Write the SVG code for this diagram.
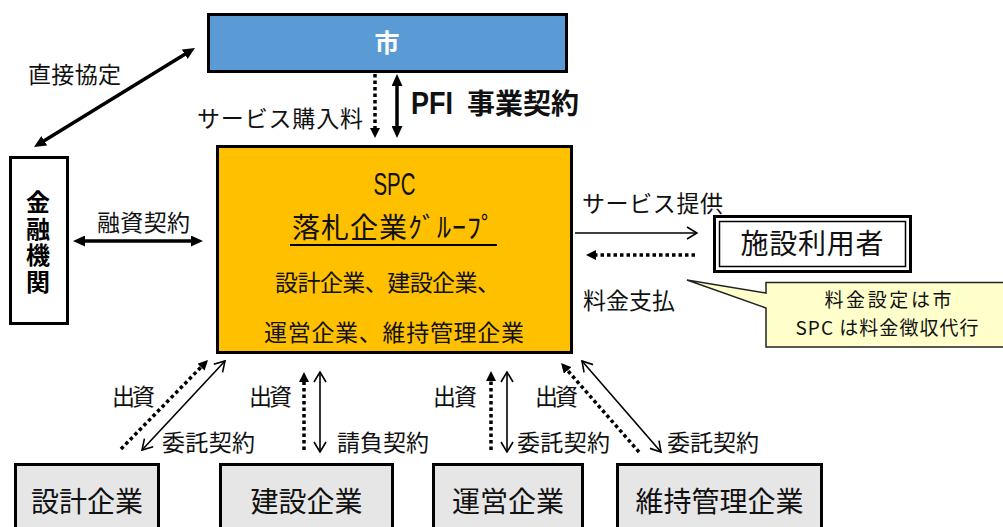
<svg xmlns="http://www.w3.org/2000/svg" width="1003" height="527" viewBox="0 0 1003 527">
<style>
  text { font-family: "Noto Sans CJK JP", "Noto Sans", sans-serif; fill: #111; }
  .box { stroke: #000; stroke-width: 3; }
  .lbl { font-size: 23px; }
  .big { font-size: 28px; }
  .thick { stroke: #000; stroke-width: 3.5; fill: none; }
  .thin { stroke: #000; stroke-width: 1.6; fill: none; }
  .dot { stroke: #000; stroke-width: 3.5; stroke-dasharray: 3.5 3; fill: none; }
  .lat { font-family: "Liberation Sans", "Noto Sans", sans-serif; }
</style>
<defs>
  <marker id="fb" viewBox="0 0 12 11" refX="3" refY="5.5" markerWidth="12" markerHeight="11" markerUnits="userSpaceOnUse" orient="auto-start-reverse">
    <path d="M0,0 L12,5.5 L0,11 Z" fill="#000"/>
  </marker>
  <marker id="fs" viewBox="0 0 10 10" refX="2" refY="5" markerWidth="10" markerHeight="10" markerUnits="userSpaceOnUse" orient="auto-start-reverse">
    <path d="M0,0 L10,5 L0,10 Z" fill="#000"/>
  </marker>
  <marker id="op" viewBox="0 0 12 14" refX="11" refY="7" markerWidth="12" markerHeight="14" markerUnits="userSpaceOnUse" orient="auto-start-reverse">
    <path d="M1,1 L11,7 L1,13" fill="none" stroke="#000" stroke-width="1.6"/>
  </marker>
</defs>
<rect width="1003" height="527" fill="#fff"/>

<g id="connectors">
  <line class="thick" x1="187.3" y1="52.7" x2="41.7" y2="142.3" stroke-width="4" marker-start="url(#fb)" marker-end="url(#fb)"/>
  <line class="thick" x1="82" y1="241" x2="194" y2="241" marker-start="url(#fb)" marker-end="url(#fb)"/>
  <line class="dot" x1="375" y1="74" x2="375" y2="130" marker-end="url(#fs)"/>
  <line class="thick" x1="397" y1="83" x2="397" y2="129" marker-start="url(#fb)" marker-end="url(#fb)"/>
  <line class="thin" x1="575" y1="233" x2="697" y2="233" marker-end="url(#op)"/>
  <line class="dot" x1="695" y1="255" x2="594" y2="255" stroke-width="4" marker-end="url(#fs)"/>
  <line class="dot" x1="121" y1="449" x2="202.4" y2="365.7" stroke-width="4" marker-end="url(#fs)"/>
  <line class="thin" x1="142" y1="450" x2="225" y2="361" marker-start="url(#op)" marker-end="url(#op)"/>
  <line class="dot" x1="304" y1="450" x2="304" y2="380" marker-end="url(#fs)"/>
  <line class="thin" x1="320" y1="452" x2="320" y2="372" marker-start="url(#op)" marker-end="url(#op)"/>
  <line class="dot" x1="491" y1="450" x2="491" y2="379" marker-end="url(#fs)"/>
  <line class="thin" x1="507" y1="452" x2="507" y2="372" marker-start="url(#op)" marker-end="url(#op)"/>
  <line class="dot" x1="639" y1="452" x2="566.3" y2="369" stroke-width="4" marker-end="url(#fs)"/>
  <line class="thin" x1="661" y1="452" x2="582" y2="361" marker-start="url(#op)" marker-end="url(#op)"/>
</g>

<g id="labels">
  <text class="lbl" x="28" y="83" textLength="93">直接協定</text>
  <text class="lbl" x="197" y="127" textLength="166">サービス購入料</text>
  <text x="411" y="114" font-weight="bold" font-size="28"><tspan class="lat" font-size="32" textLength="42" lengthAdjust="spacingAndGlyphs">PFI</tspan> <tspan x="467">事業契約</tspan></text>
  <text class="lbl" x="97" y="231" textLength="93">融資契約</text>
  <text class="lbl" x="582" y="212" textLength="141">サービス提供</text>
  <text class="lbl" x="583" y="309" textLength="92">料金支払</text>
  <text class="lbl" x="112" y="405" font-size="22" textLength="43">出資</text>
  <text class="lbl" x="162" y="451" textLength="93">委託契約</text>
  <text class="lbl" x="249" y="405" font-size="22" textLength="43">出資</text>
  <text class="lbl" x="337" y="451" textLength="92">請負契約</text>
  <text class="lbl" x="433" y="405" font-size="22" textLength="44">出資</text>
  <text class="lbl" x="517" y="451" textLength="93">委託契約</text>
  <text class="lbl" x="535" y="405" font-size="22" textLength="43">出資</text>
  <text class="lbl" x="667" y="451" textLength="92">委託契約</text>
</g>

<g id="city">
  <rect class="box" x="208.5" y="14.5" width="358" height="57" fill="#5B9BD5"/>
  <text x="387" y="52" font-size="25" font-weight="bold" text-anchor="middle" style="fill:#fff">市</text>
</g>

<g id="bank">
  <rect class="box" x="10.5" y="157.5" width="57" height="166" fill="#fff"/>
  <text x="38" y="190" font-size="24" font-weight="bold" style="fill:#000; writing-mode: vertical-rl; letter-spacing: 2.5px">金融機関</text>
</g>

<g id="spc">
  <rect class="box" x="217.5" y="146.5" width="354" height="206" fill="#FFC000"/>
  <text class="lat" x="394.5" y="195" font-size="31" text-anchor="middle" textLength="42" lengthAdjust="spacingAndGlyphs">SPC</text>
  <text x="292" y="238" font-size="28" textLength="203">落札企業ｸﾞﾙｰﾌﾟ</text>
  <line x1="290" y1="245" x2="497" y2="245" stroke="#000" stroke-width="2"/>
  <text x="275" y="291" font-size="23" textLength="225">設計企業、建設企業、</text>
  <text x="264" y="341" font-size="23" textLength="260">運営企業、維持管理企業</text>
</g>

<g id="users">
  <rect x="714.5" y="216.5" width="196" height="55" fill="#fff" stroke="#000" stroke-width="3"/>
  <rect x="719.5" y="221.5" width="186" height="45" fill="none" stroke="#000" stroke-width="1.5"/>
  <text x="812" y="254" font-size="28" text-anchor="middle" textLength="143">施設利用者</text>
</g>

<g id="note">
  <path d="M766,282.5 H1006 V347 H766 V308 L687,280 L766,293 Z" fill="#FFFFCC" stroke="#222" stroke-width="1.5"/>
  <text x="888" y="307" font-size="19" text-anchor="middle" textLength="127">料金設定は市</text>
  <text x="887" y="335" font-size="19" text-anchor="middle" textLength="183">SPC は料金徴収代行</text>
</g>

<g id="design">
  <rect class="box" x="15.5" y="464.5" width="143" height="80" fill="#E7E6E6"/>
  <text class="big" x="87" y="512" text-anchor="middle">設計企業</text>
</g>
<g id="construction">
  <rect class="box" x="220.5" y="464.5" width="172" height="80" fill="#E7E6E6"/>
  <text class="big" x="306.5" y="512" text-anchor="middle">建設企業</text>
</g>
<g id="operation">
  <rect class="box" x="433.5" y="464.5" width="149" height="80" fill="#E7E6E6"/>
  <text class="big" x="508" y="512" text-anchor="middle">運営企業</text>
</g>
<g id="maintenance">
  <rect class="box" x="617.5" y="464.5" width="204" height="80" fill="#E7E6E6"/>
  <text class="big" x="719.5" y="512" text-anchor="middle">維持管理企業</text>
</g>
</svg>
